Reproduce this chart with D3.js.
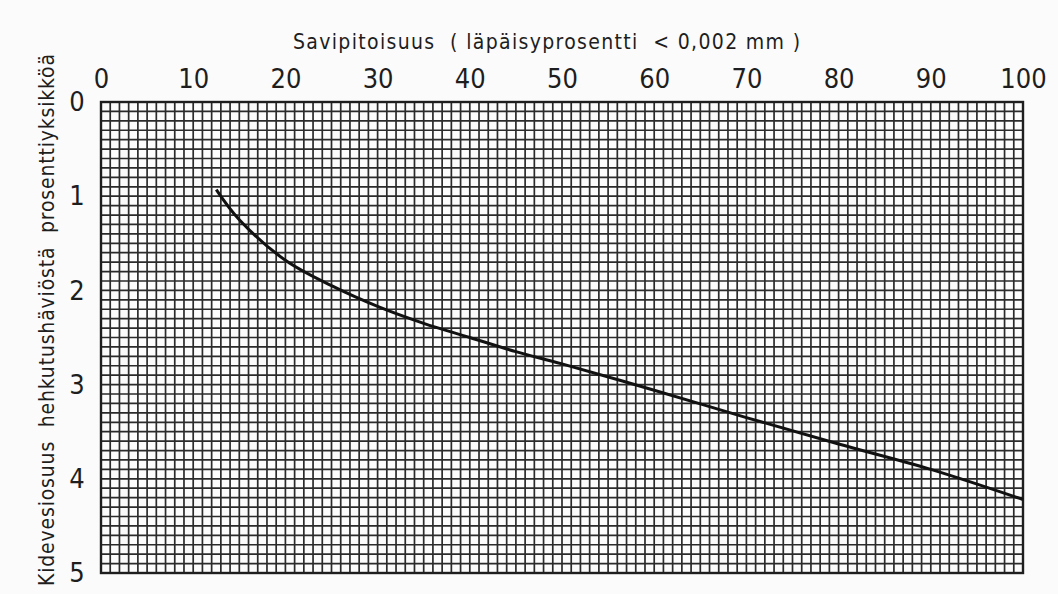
<!DOCTYPE html>
<html>
<head>
<meta charset="utf-8">
<script src="https://cdn.jsdelivr.net/npm/d3@7"></script>
<style>
  body { margin: 0; background: #fbfbfb; }
  text { fill: #1e1e1e; font-family: "DejaVu Sans", sans-serif; font-stretch: condensed; }
</style>
</head>
<body>
<svg width="1058" height="594"></svg>
<script>
const svg = d3.select('svg');

const width = +svg.attr('width');
const height = +svg.attr('height');
const margin = { top: 102, right: 35, bottom: 21, left: 101 };
const innerWidth = width - margin.left - margin.right;
const innerHeight = height - margin.top - margin.bottom;

const titleText = 'Savipitoisuus  ( läpäisyprosentti  < 0,002 mm )';
const yAxisLabel = 'Kidevesiosuus  hehkutushäviöstä  prosenttiyksikköä';

// x ticks and y ticks
const xTicks = [0, 10, 20, 30, 40, 50, 60, 70, 80, 90, 100];
const yTicks = [0, 1, 2, 3, 4, 5];

// curve
const clayPercent = [12.5, 15, 20, 25, 30, 35, 40, 45, 50, 60, 70, 80, 90, 100];
const waterLoss = [0.93, 1.25, 1.68, 1.95, 2.17, 2.35, 2.5, 2.65, 2.78, 3.06, 3.35, 3.63, 3.9, 4.22];

const x = d3.scaleLinear().domain([0, 100]).range([0, innerWidth]);
const y = d3.scaleLinear().domain([0, 5]).range([0, innerHeight]);

const g = svg.append('g')
    .attr('transform', `translate(${margin.left},${margin.top})`);

// millimetre paper grid
g.append('g')
    .selectAll('line')
    .data(d3.range(0, 101, 1))
    .enter()
    .append('line')
    .attr('x1', d => x(d)).attr('x2', d => x(d))
    .attr('y1', 0).attr('y2', innerHeight)
    .attr('stroke', '#2a2a2a')
    .attr('stroke-width', 1.7);

g.append('g')
    .selectAll('line')
    .data(d3.range(0, 51, 1).map(d => d / 10))
    .enter()
    .append('line')
    .attr('x1', 0).attr('x2', innerWidth)
    .attr('y1', d => y(d)).attr('y2', d => y(d))
    .attr('stroke', '#2a2a2a')
    .attr('stroke-width', 1.7);

// frame
g.append('rect')
    .attr('width', innerWidth)
    .attr('height', innerHeight)
    .attr('fill', 'none')
    .attr('stroke', '#1e1e1e')
    .attr('stroke-width', 2.4);

// axes on top and left, without lines
const xAxis = d3.axisTop(x).tickValues(xTicks).tickSize(0).tickPadding(14)
    .tickFormat(d3.format('d'));
const yAxis = d3.axisLeft(y).tickValues(yTicks).tickSize(0).tickPadding(24)
    .tickFormat(d3.format('d'));

const xg = g.append('g').call(xAxis);
xg.select('.domain').remove();
xg.selectAll('text').attr('font-size', 27).attr('font-family', null);

const yg = g.append('g').call(yAxis);
yg.select('.domain').remove();
yg.selectAll('text')
    .attr('font-size', 27)
    .attr('font-family', null)
    .attr('text-anchor', 'middle');

// the curve
const line = d3.line()
    .x((d, i) => x(clayPercent[i]))
    .y(d => y(d))
    .curve(d3.curveCatmullRom);

g.append('path')
    .attr('d', line(waterLoss))
    .attr('fill', 'none')
    .attr('stroke', '#111')
    .attr('stroke-width', 3);

// title
svg.append('text')
    .attr('x', 293)
    .attr('y', 49)
    .attr('font-size', 21)
    .attr('textLength', 507)
    .attr('lengthAdjust', 'spacing')
    .style('white-space', 'pre')
    .text(titleText);

// y label
svg.append('text')
    .attr('transform', 'translate(54,586) rotate(-90)')
    .attr('font-size', 21)
    .attr('textLength', 532)
    .attr('lengthAdjust', 'spacing')
    .style('white-space', 'pre')
    .text(yAxisLabel);
</script>
</body>
</html>
